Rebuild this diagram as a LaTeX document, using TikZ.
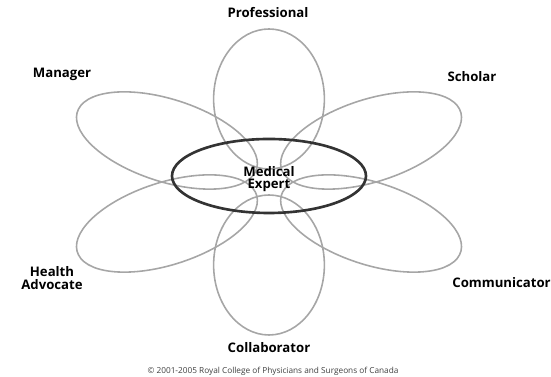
\documentclass[tikz,border=0pt]{standalone}
\usepackage{fontspec}
\setmainfont{Open Sans}
\tikzset{
    petal/.style={draw=gray!70, line width=0.9pt},
    core/.style={draw=black!80, line width=1.5pt},
    role/.style={font=\fontsize{7.5}{7.2}\selectfont\bfseries, text=black, inner sep=0pt, align=center},
    note/.style={font=\fontsize{4.7}{5}\selectfont, text=black!75, inner sep=0pt},
}

\begin{document}
\begin{tikzpicture}[x=0.02cm, y=0.02cm]
    \useasboundingbox (0,0) rectangle (551,377);

    % Six petals around the centre
    \begin{scope}[shift={(269,195)}, xscale=1.42]
        \draw[petal, rotate=90] (83,0) ellipse (70 and 39);
        \draw[petal, rotate=30] (83,0) ellipse (70 and 39);
        \draw[petal, rotate=-30] (83,0) ellipse (70 and 39);
        \draw[petal, rotate=-90] (83,0) ellipse (70 and 39);
        \draw[petal, rotate=210] (83,0) ellipse (70 and 39);
        \draw[petal, rotate=150] (83,0) ellipse (70 and 39);
    \end{scope}

    % Central ellipse
    \draw[core] (269,201) ellipse (97 and 37);
    \node[role] (expert) at (269,198) {Medical\\Expert};

    % Roles
    \node[role] (prof) at (268,364) {Professional};
    \node[role] (manager) at (62,303) {Manager};
    \node[role] (scholar) at (472,300) {Scholar};
    \node[role] (health) at (52,99) {Health\\Advocate};
    \node[role, anchor=west] (comm) at (452,94) {Communicator};
    \node[role] (collab) at (269,29) {Collaborator};

    % Copyright line
    \node[note] (copy) at (273,6) {© 2001-2005 Royal College of Physicians and Surgeons of Canada};
\end{tikzpicture}
\end{document}
